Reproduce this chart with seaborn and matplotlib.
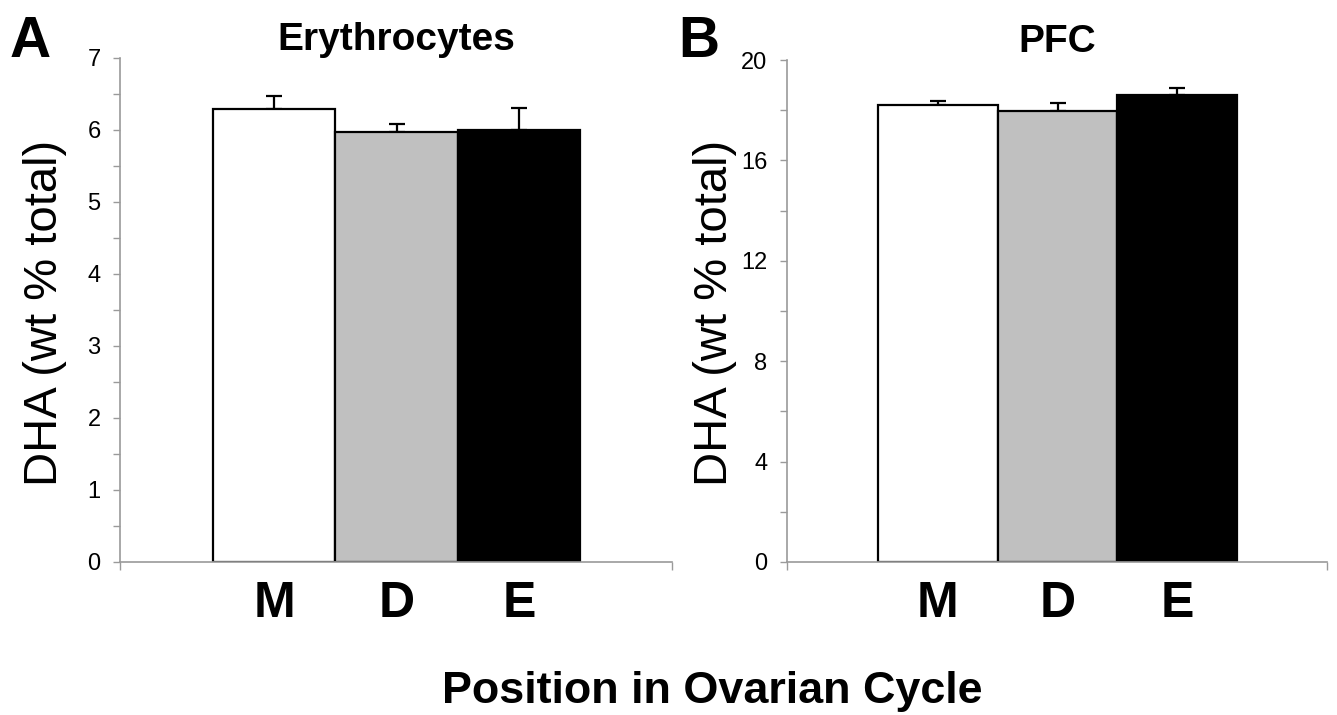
import numpy as np
import pandas as pd
import seaborn as sns
import matplotlib.pyplot as plt
from matplotlib.ticker import MultipleLocator, FixedLocator, NullFormatter

sns.set_style("ticks")
plt.rcParams['font.family'] = ['Liberation Sans', 'DejaVu Sans']
plt.rcParams['text.color'] = 'black'
plt.rcParams['xtick.labelcolor'] = 'black'
plt.rcParams['ytick.labelcolor'] = 'black'

# data (mean +/- SEM, wt % of total fatty acids)
phases = ["M", "D", "E"]
bar_colors = ["white", "#C0C0C0", "black"]
rbc_mean = [6.29, 5.97, 6.00]
rbc_err = [0.18, 0.11, 0.31]
pfc_mean = [18.20, 17.97, 18.62]
pfc_err = [0.17, 0.33, 0.26]

panels = [
    ("A", "Erythrocytes", rbc_mean, rbc_err, 7, 1, 0.5),
    ("B", "PFC", pfc_mean, pfc_err, 20, 4, 2),
]

fig = plt.figure(figsize=(13.37, 7.15), dpi=100)
axes = [fig.add_axes([0.0898, 0.214, 0.4128, 0.705]),
        fig.add_axes([0.5886, 0.214, 0.4039, 0.702])]

grey = "#9a9a9a"
for ax, (letter, title, means, errs, ymax, major, minor) in zip(axes, panels):
    df = pd.DataFrame({"phase": phases, "value": means})
    sns.barplot(data=df, x="phase", y="value", hue="phase", palette=bar_colors,
                width=1.0, edgecolor="black", linewidth=1.6, errorbar=None,
                legend=False, ax=ax)
    ax.errorbar(np.arange(len(phases)), means, yerr=[np.zeros(len(errs)), errs],
                fmt="none", ecolor="black", elinewidth=1.6, capsize=5.5,
                capthick=1.6, zorder=0.5)

    ax.set_xlim(-1.26, 3.25)
    ax.set_ylim(0, ymax)
    ax.yaxis.set_major_locator(MultipleLocator(major))
    ax.yaxis.set_minor_locator(MultipleLocator(minor))
    ax.yaxis.set_minor_formatter(NullFormatter())
    ax.tick_params(axis="y", which="both", length=5, width=1, color=grey,
                   labelsize=17, pad=9, labelcolor="black")
    # x axis: category labels without marks, small end ticks like the original
    ax.tick_params(axis="x", which="major", length=0, pad=14, labelsize=36,
                   labelcolor="black")
    ax.xaxis.set_minor_locator(FixedLocator(ax.get_xlim()))
    ax.tick_params(axis="x", which="minor", length=6, width=1, color=grey)
    for lab in ax.get_xticklabels():
        lab.set_fontweight("bold")

    for side in ["top", "right"]:
        ax.spines[side].set_visible(False)
    for side in ["left", "bottom"]:
        ax.spines[side].set_color(grey)
        ax.spines[side].set_linewidth(1.2)

    ax.set_xlabel("")
    ax.set_ylabel("")
    ax.set_title(title, fontsize=28, fontweight="bold", color="black",
                 pad=3 if letter == "A" else 5)

fig.text(0.0075, 0.979, "A", fontsize=41, fontweight="bold", va="top", ha="left")
fig.text(0.507, 0.979, "B", fontsize=41, fontweight="bold", va="top", ha="left")
fig.text(0.034, 0.563, "DHA (wt % total)", fontsize=34, rotation=90,
         ha="center", va="center")
fig.text(0.535, 0.563, "DHA (wt % total)", fontsize=34, rotation=90,
         ha="center", va="center")
fig.text(0.533, 0.017, "Position in Ovarian Cycle", fontsize=32.3,
         fontweight="bold", ha="center", va="baseline")

fig.savefig("out.png", dpi=100)
